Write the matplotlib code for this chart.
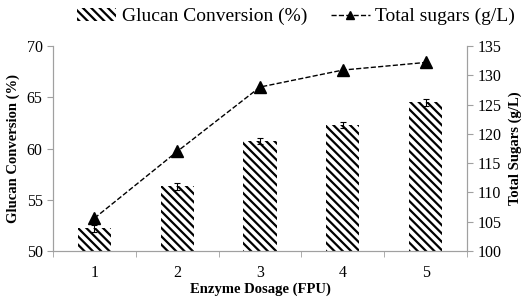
import matplotlib
matplotlib.use('Agg')
import numpy as np
import matplotlib.pyplot as plt

dosage = ['1', '2', '3', '4', '5']
glucan = [52.2, 56.3, 60.7, 62.3, 64.5]
glucan_err = [0.3, 0.3, 0.3, 0.3, 0.35]
sugars = [105.6, 117.0, 128.0, 130.9, 132.2]

plt.rcParams['font.family'] = ['Liberation Serif', 'DejaVu Serif']
plt.rcParams['hatch.color'] = 'black'
plt.rcParams['hatch.linewidth'] = 1.6

fig = plt.figure(figsize=(5.29, 3.01), dpi=100)
ax = fig.add_axes([0.1002, 0.166, 0.7826, 0.681])
x = np.arange(len(dosage))

bars = ax.bar(x, glucan, width=0.4, color='white', edgecolor='black',
              linewidth=0, hatch='\\\\\\\\', label='Glucan Conversion (%)')
ax.errorbar(x, glucan, yerr=glucan_err, fmt='none', ecolor='black',
            elinewidth=0.8, capsize=2.5, capthick=0.8)
ax.set_xlim(-0.5, 4.5)
ax.set_ylim(50, 70)
ax.set_yticks([50, 55, 60, 65, 70])
ax.set_xticks(x)
ax.set_xticklabels(dosage)
ax.set_xticks(np.arange(-0.5, 4.6, 1), minor=True)
ax.tick_params(axis='x', which='major', length=0, pad=10, labelsize=11.5)
ax.tick_params(axis='x', which='minor', length=4, color='#a0a0a0', direction='out')
ax.tick_params(axis='y', length=4, color='#a0a0a0', labelsize=11.5)
ax.set_xlabel('Enzyme Dosage (FPU)', fontweight='bold', fontsize=10.5, labelpad=1)
ax.set_ylabel('Glucan Conversion (%)', fontweight='bold', fontsize=10.5, labelpad=5)
ax.spines['top'].set_visible(False)
for s in ['left', 'bottom', 'right']:
    ax.spines[s].set_color('#a0a0a0')

ax2 = ax.twinx()
line, = ax2.plot(x, sugars, color='black', linestyle='--', linewidth=1,
                 marker='^', markersize=8, label='Total sugars (g/L)')
ax2.set_ylim(100, 135)
ax2.set_yticks(np.arange(100, 136, 5))
ax2.tick_params(axis='y', length=4, color='#a0a0a0', labelsize=11.5)
ax2.set_ylabel('Total Sugars (g/L)', fontweight='bold', fontsize=10.5, labelpad=5)
ax2.spines['top'].set_visible(False)
for s in ['left', 'bottom', 'right']:
    ax2.spines[s].set_color('#a0a0a0')

leg = fig.legend([bars, line], ['Glucan Conversion (%)', 'Total sugars (g/L)'],
                 loc='center', bbox_to_anchor=(0.56, 0.945), ncol=2, frameon=False,
                 fontsize=14, handlelength=2.0, handletextpad=0.3, columnspacing=1.2,
                 markerscale=0.8)

fig.savefig('out.png', dpi=100)
